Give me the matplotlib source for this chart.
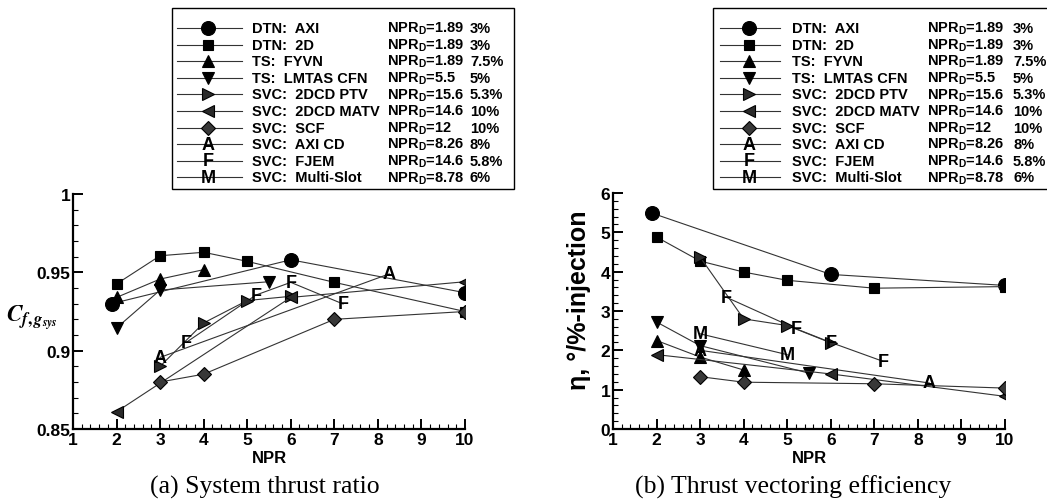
import matplotlib
matplotlib.use("Agg")
import matplotlib.pyplot as plt
from matplotlib.patches import Rectangle
from matplotlib.ticker import MultipleLocator

plt.rcParams['font.family'] = ['Liberation Sans', 'DejaVu Sans']
plt.rcParams['font.weight'] = 'bold'
plt.rcParams['mathtext.fontset'] = 'custom'
plt.rcParams['mathtext.rm'] = 'Liberation Sans:bold'
plt.rcParams['mathtext.bf'] = 'Liberation Sans:bold'
plt.rcParams['mathtext.it'] = 'Liberation Sans:bold'

# ---------------- data ----------------
npr_axi = [1.89, 6, 10]
cf_axi = [0.930, 0.958, 0.937]
eta_axi = [5.49, 3.93, 3.65]

npr_2d = [2, 3, 4, 5, 7, 10]
cf_2d = [0.9426, 0.9606, 0.9628, 0.957, 0.9436, 0.925]
eta_2d = [4.88, 4.27, 3.99, 3.78, 3.58, 3.62]

npr_fyvn = [2, 3, 4]
cf_fyvn = [0.934, 0.9457, 0.9517]
eta_fyvn = [2.25, 1.83, 1.50]

npr_lmtas = [2, 3, 5.5]
cf_lmtas = [0.9145, 0.9387, 0.944]
eta_lmtas = [2.72, 2.12, 1.42]

npr_ptv = [3, 4, 5, 6]
cf_ptv = [0.890, 0.9177, 0.932, 0.9347]
eta_ptv = [4.37, 2.80, 2.63, 2.19]

npr_matv = [2, 6, 10]
cf_matv = [0.861, 0.934, 0.944]
eta_matv = [1.89, 1.40, 0.83]

npr_scf = [3, 4, 7, 10]
cf_scf = [0.880, 0.885, 0.920, 0.925]
eta_scf = [1.33, 1.19, 1.15, 1.04]

npr_axicd = [3, 8.26]
cf_axicd = [0.8957, 0.949]
eta_axicd = [2.00, 1.17]

npr_fjem = [3.6, 5.2, 6, 7.2]
cf_fjem = [0.9053, 0.9355, 0.9436, 0.9298]
eta_fjem = [3.35, 2.55, 2.20, 1.72]

npr_multi_a = []
cf_multi = []
npr_multi_b = [3, 5]
eta_multi = [2.42, 1.89]

legend_names = ["DTN:  AXI", "DTN:  2D", "TS:  FYVN", "TS:  LMTAS CFN",
                "SVC:  2DCD PTV", "SVC:  2DCD MATV", "SVC:  SCF",
                "SVC:  AXI CD", "SVC:  FJEM", "SVC:  Multi-Slot"]
legend_nprd = ["1.89", "1.89", "1.89", "5.5", "15.6", "14.6", "12",
               "8.26", "14.6", "8.78"]
legend_pct = ["3%", "3%", "7.5%", "5%", "5.3%", "10%", "10%", "8%",
              "5.8%", "6%"]

xticks = [1, 2, 3, 4, 5, 6, 7, 8, 9, 10]
yticks_a = [0.85, 0.9, 0.95, 1.0]
ytick_labels_a = ["0.85", "0.9", "0.95", "1"]
yticks_b = [0, 1, 2, 3, 4, 5, 6]

# ---------------- styles ----------------
LC = '#333333'
LW = 0.8
styles = [
    dict(marker='o', ms=10, mfc='black', mec='black'),
    dict(marker='s', ms=7, mfc='black', mec='black'),
    dict(marker='^', ms=8, mfc='black', mec='black'),
    dict(marker='v', ms=8, mfc='black', mec='black'),
    dict(marker='>', ms=8, mfc='#2a2a2a', mec='black'),
    dict(marker='<', ms=8, mfc='#2a2a2a', mec='black'),
    dict(marker='D', ms=7, mfc='#383838', mec='black'),
    dict(letter='A'),
    dict(letter='F'),
    dict(letter='M'),
]

W, H = 1047, 502
fig = plt.figure(figsize=(W / 100, H / 100), dpi=100)


def px_axes(x0, x1, ytop, ybot):
    return fig.add_axes([x0 / W, 1 - ybot / H, (x1 - x0) / W, (ybot - ytop) / H])


def plot_series(ax, x, y, st):
    if len(x) == 0:
        return
    if 'letter' in st:
        ax.plot(x, y, color=LC, lw=LW, zorder=2)
        for xi, yi in zip(x, y):
            ax.text(xi, yi, st['letter'], ha='center', va='center',
                    fontsize=13, fontweight='bold', color='black', zorder=4)
    else:
        ax.plot(x, y, color=LC, lw=LW, marker=st['marker'], ms=st['ms'],
                mfc=st['mfc'], mec=st['mec'], mew=0.8, zorder=3)


def style_axes(ax):
    for s in ['top', 'right']:
        ax.spines[s].set_visible(False)
    for s in ['left', 'bottom']:
        ax.spines[s].set_linewidth(1.6)
    ax.set_xlim(1, 10)
    ax.set_xticks(xticks)
    ax.xaxis.set_minor_locator(MultipleLocator(0.2))
    ax.tick_params(which='major', direction='in', length=7, width=1.4,
                   labelsize=12.5, pad=2)
    ax.tick_params(which='minor', direction='in', length=3.5, width=0.8)
    ax.tick_params(top=False, right=False, which='both')
    for lab in ax.get_xticklabels() + ax.get_yticklabels():
        lab.set_fontweight('bold')
    ax.set_xlabel('NPR', fontsize=12, fontweight='bold', labelpad=2)


# ---------------- panel (a) ----------------
axa = px_axes(73, 465, 195, 430)
xa = [npr_axi, npr_2d, npr_fyvn, npr_lmtas, npr_ptv, npr_matv, npr_scf,
      npr_axicd, npr_fjem, npr_multi_a]
ya = [cf_axi, cf_2d, cf_fyvn, cf_lmtas, cf_ptv, cf_matv, cf_scf,
      cf_axicd, cf_fjem, cf_multi]
for x, y, st in zip(xa, ya, styles):
    plot_series(axa, x, y, st)
axa.set_ylim(0.85, 1.0)
axa.set_yticks(yticks_a)
axa.set_yticklabels(ytick_labels_a)
axa.yaxis.set_minor_locator(MultipleLocator(0.01))
style_axes(axa)
fig.text(32 / W, 1 - 318 / H, r'$C_{f,g_{sys}}$', math_fontfamily='stix',
         fontsize=17, ha='center', va='center')

# ---------------- panel (b) ----------------
axb = px_axes(613, 1005, 194, 430)
xb = [npr_axi, npr_2d, npr_fyvn, npr_lmtas, npr_ptv, npr_matv, npr_scf,
      npr_axicd, npr_fjem, npr_multi_b]
yb = [eta_axi, eta_2d, eta_fyvn, eta_lmtas, eta_ptv, eta_matv, eta_scf,
      eta_axicd, eta_fjem, eta_multi]
for x, y, st in zip(xb, yb, styles):
    plot_series(axb, x, y, st)
axb.set_ylim(0, 6)
axb.set_yticks(yticks_b)
axb.yaxis.set_minor_locator(MultipleLocator(0.2))
style_axes(axb)
fig.text(579 / W, 1 - 300 / H, 'η, °/%-injection', rotation=90,
         fontsize=18, fontweight='bold', ha='center', va='center')

# captions
fig.text(265 / W, 1 - 487 / H, '(a) System thrust ratio',
         family='Liberation Serif', fontweight='normal', fontsize=18.5,
         ha='center', va='center')
fig.text(793 / W, 1 - 487 / H, '(b) Thrust vectoring efficiency',
         family='Liberation Serif', fontweight='normal', fontsize=18.5,
         ha='center', va='center')

# ---------------- legends (overlay in pixel coords) ----------------
ov = fig.add_axes([0, 0, 1, 1], zorder=10)
ov.set_xlim(0, W)
ov.set_ylim(H, 0)
ov.axis('off')
ov.patch.set_visible(False)


def draw_legend(bx0, bx1, line0, line1, mx, tx, nx, px):
    ov.add_patch(Rectangle((bx0, 9), bx1 - bx0, 181, fc='white', ec='black',
                           lw=1.0))
    for i, st in enumerate(styles):
        yy = 29 + 16.6 * i
        ov.plot([line0, line1], [yy, yy], color=LC, lw=LW)
        if 'letter' in st:
            ov.text(mx, yy, st['letter'], ha='center', va='center',
                    fontsize=13, fontweight='bold')
        else:
            ov.plot([mx], [yy], marker=st['marker'], ms=st['ms'],
                    mfc=st['mfc'], mec=st['mec'], mew=0.8)
        ov.text(tx, yy, legend_names[i], ha='left', va='center', fontsize=10.5,
                fontweight='bold')
        ov.text(nx, yy, r'NPR$_\mathrm{D}$=' + legend_nprd[i], ha='left',
                va='center', fontsize=10.5, fontweight='bold')
        ov.text(px, yy, legend_pct[i], ha='left', va='center', fontsize=10.5,
                fontweight='bold')


draw_legend(172, 514, 177, 242, 208, 252, 387, 470)
draw_legend(713, 1070, 720, 780, 749, 792, 927, 1013)

fig.savefig('out.png', dpi=100)
